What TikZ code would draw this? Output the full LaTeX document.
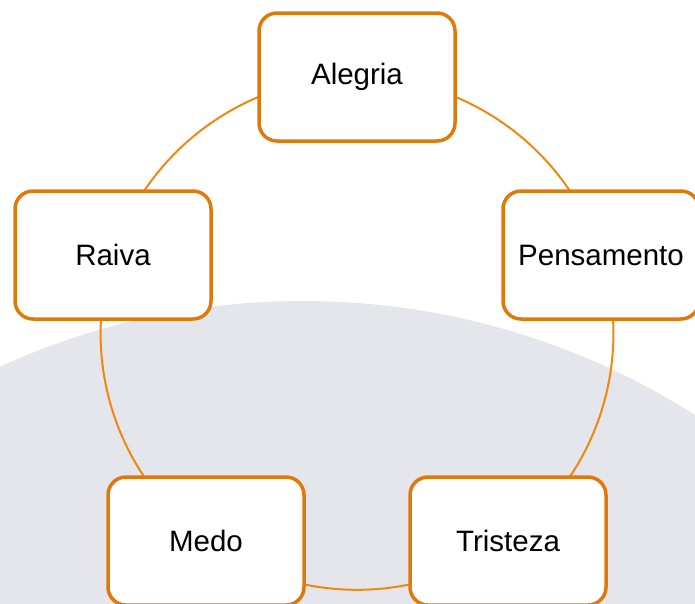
\documentclass[tikz,border=0pt]{standalone}
\usepackage{fontspec}
\setmainfont{Liberation Sans}
\usetikzlibrary{backgrounds}
\definecolor{boxorange}{RGB}{224,121,12}
\definecolor{ringorange}{RGB}{240,136,16}
\definecolor{softgray}{RGB}{229,230,235}
\begin{document}
\begin{tikzpicture}[
		x=1pt,y=-1pt,
		emobox/.style={draw=boxorange,line width=3.5pt,fill=white,rounded corners=18pt,
			minimum width=196pt,minimum height=128pt,inner sep=0pt,font=\fontsize{29.5}{33}\selectfont},
		ring/.style={draw=ringorange,line width=2pt}
	]
	\useasboundingbox (0,0) rectangle (695,603);
	\clip (0,0) rectangle (695,603);
	\node[emobox] (alegria) at (357,77) {Alegria};
	\node[emobox] (pensamento) at (601,255) {Pensamento};
	\node[emobox] (tristeza) at (508,541) {Tristeza};
	\node[emobox] (medo) at (206,541) {Medo};
	\node[emobox] (raiva) at (113,255) {Raiva};
	\begin{scope}[on background layer]
		\clip (0,0) rectangle (695,603);
		\fill[softgray] (303,1031) circle (730);
		\draw[ring] (alegria.center) to[bend left=36,looseness=0.94] (pensamento.center);
		\draw[ring] (pensamento.center) to[bend left=36,looseness=0.94] (tristeza.center);
		\draw[ring] (tristeza.center) to[bend left=36,looseness=0.94] (medo.center);
		\draw[ring] (medo.center) to[bend left=36,looseness=0.94] (raiva.center);
		\draw[ring] (raiva.center) to[bend left=36,looseness=0.94] (alegria.center);
	\end{scope}
\end{tikzpicture}
\end{document}
